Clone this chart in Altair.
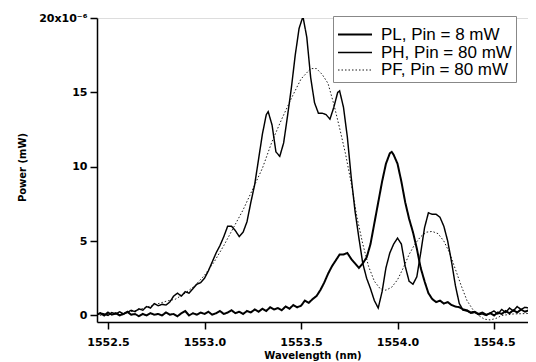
import altair as alt
import pandas as pd

labels = ["PL, Pin = 8 mW", "PH, Pin = 80 mW", "PF, Pin = 80 mW"]

pl_x = [1552.44, 1552.46, 1552.48, 1552.50, 1552.52, 1552.54, 1552.56, 1552.58, 1552.60, 1552.62,
        1552.64, 1552.66, 1552.68, 1552.70, 1552.72, 1552.74, 1552.76, 1552.78, 1552.80, 1552.82,
        1552.84, 1552.86, 1552.88, 1552.90, 1552.92, 1552.94, 1552.96, 1552.98, 1553.00, 1553.02,
        1553.04, 1553.06, 1553.08, 1553.10, 1553.12, 1553.14, 1553.16, 1553.18, 1553.20, 1553.22,
        1553.24, 1553.26, 1553.28, 1553.30, 1553.32, 1553.34, 1553.36, 1553.38, 1553.40, 1553.42,
        1553.44, 1553.46, 1553.48, 1553.50, 1553.52, 1553.54, 1553.56, 1553.58, 1553.60, 1553.62,
        1553.64, 1553.66, 1553.68, 1553.70, 1553.72, 1553.74, 1553.76, 1553.78, 1553.80, 1553.82,
        1553.84, 1553.86, 1553.88, 1553.90, 1553.92, 1553.94, 1553.96, 1553.97, 1553.98, 1554.00,
        1554.02, 1554.04, 1554.06, 1554.08, 1554.10, 1554.12, 1554.14, 1554.16, 1554.18, 1554.20,
        1554.22, 1554.24, 1554.26, 1554.28, 1554.30, 1554.32, 1554.34, 1554.36, 1554.38, 1554.40,
        1554.42, 1554.44, 1554.46, 1554.48, 1554.50, 1554.52, 1554.54, 1554.56, 1554.58, 1554.60,
        1554.62, 1554.64, 1554.66, 1554.68, 1554.70, 1554.72]
pl_y = [0.05, 0.15, 0.0, 0.2, 0.05, 0.15, 0.0, 0.1, 0.25, 0.05,
        0.1, -0.05, 0.1, 0.0, 0.15, 0.05, 0.1, 0.0, 0.2, 0.05,
        0.1, -0.05, 0.15, 0.3, 0.0, 0.15, 0.05, 0.2, 0.1, 0.25,
        0.05, 0.15, 0.3, 0.1, 0.2, 0.35, 0.15, 0.25, 0.1, 0.3,
        0.2, 0.4, 0.25, 0.45, 0.3, 0.55, 0.4, 0.5, 0.35, 0.6,
        0.45, 0.7, 0.55, 0.65, 1.0, 0.85, 1.1, 1.3, 1.7, 2.2,
        2.8, 3.3, 3.7, 4.1, 4.1, 4.2, 3.8, 3.5, 3.2, 3.5,
        3.9, 4.8, 6.2, 7.6, 9.0, 10.2, 10.9, 11.0, 10.8, 10.2,
        9.0, 7.6, 6.5, 5.6, 4.5, 3.2, 2.3, 1.5, 1.1, 0.9,
        1.0, 0.8, 0.9, 0.7, 0.6, 0.55, 0.4, 0.35, 0.2, 0.25,
        0.1, 0.2, 0.05, 0.15, 0.0, 0.2, 0.1, 0.3, 0.15, 0.35,
        0.2, 0.4, 0.25, 0.35, 0.2, 0.3]

ph_x = [1552.44, 1552.46, 1552.48, 1552.50, 1552.52, 1552.54, 1552.56, 1552.58, 1552.60, 1552.62,
        1552.64, 1552.66, 1552.68, 1552.70, 1552.72, 1552.74, 1552.76, 1552.78, 1552.80, 1552.82,
        1552.84, 1552.86, 1552.88, 1552.90, 1552.92, 1552.94, 1552.96, 1552.98, 1553.00, 1553.02,
        1553.04, 1553.06, 1553.08, 1553.10, 1553.12, 1553.14, 1553.16, 1553.18, 1553.20, 1553.22,
        1553.24, 1553.26, 1553.28, 1553.30, 1553.32, 1553.33, 1553.35, 1553.37, 1553.39, 1553.41,
        1553.43, 1553.45, 1553.47, 1553.49, 1553.51, 1553.53, 1553.55, 1553.57, 1553.59, 1553.61,
        1553.63, 1553.65, 1553.67, 1553.69, 1553.70, 1553.72, 1553.74, 1553.76, 1553.78, 1553.80,
        1553.82, 1553.84, 1553.86, 1553.88, 1553.90, 1553.92, 1553.94, 1553.96, 1553.98, 1554.00,
        1554.02, 1554.04, 1554.06, 1554.08, 1554.10, 1554.12, 1554.14, 1554.16, 1554.18, 1554.20,
        1554.22, 1554.24, 1554.26, 1554.28, 1554.30, 1554.32, 1554.34, 1554.36, 1554.38, 1554.40,
        1554.42, 1554.44, 1554.46, 1554.48, 1554.50, 1554.52, 1554.54, 1554.56, 1554.58, 1554.60,
        1554.62, 1554.64, 1554.66, 1554.68, 1554.70, 1554.72]
ph_y = [0.05, 0.15, 0.1, 0.0, 0.2, 0.1, 0.25, 0.1, 0.2, 0.35,
        0.25, 0.45, 0.35, 0.6, 0.5, 0.8, 0.65, 0.75, 0.7, 0.9,
        1.3, 1.5, 1.3, 1.6, 1.5, 1.8, 2.1, 2.2, 2.5, 3.0,
        3.6, 4.2, 4.7, 5.3, 6.0, 6.0, 5.7, 5.3, 5.6, 6.3,
        7.6, 8.8, 10.5, 12.2, 13.5, 13.7, 12.8, 11.0, 10.7, 11.6,
        13.4, 15.3, 17.5, 19.3, 20.1, 18.7, 16.0, 14.3, 13.6, 13.6,
        13.5, 13.2, 14.0, 15.0, 15.1, 14.0, 12.0, 9.3, 7.0, 5.2,
        3.5, 2.5, 1.8, 1.0, 0.5, 1.6, 3.2, 4.2, 4.8, 5.2,
        4.8, 3.3, 2.3, 2.1, 2.6, 4.2, 5.9, 6.9, 6.8, 6.8,
        6.6, 6.0, 5.0, 3.6, 2.0, 0.8, 0.35, 0.3, 0.15, 0.2,
        0.05, 0.1, 0.0, 0.15, 0.3, 0.1, 0.4, 0.2, 0.5, 0.3,
        0.6, 0.4, 0.55, 0.5, 0.4, 0.5]

pf_x = [1552.44, 1552.50, 1552.55, 1552.60, 1552.65, 1552.70, 1552.75, 1552.80, 1552.85, 1552.90,
        1552.95, 1553.00, 1553.05, 1553.10, 1553.15, 1553.20, 1553.25, 1553.30, 1553.35, 1553.40,
        1553.45, 1553.50, 1553.55, 1553.58, 1553.61, 1553.64, 1553.67, 1553.70, 1553.73, 1553.76,
        1553.79, 1553.82, 1553.85, 1553.88, 1553.91, 1553.94, 1553.97, 1554.00, 1554.03, 1554.06,
        1554.09, 1554.12, 1554.15, 1554.18, 1554.21, 1554.24, 1554.27, 1554.30, 1554.33, 1554.36,
        1554.39, 1554.42, 1554.45, 1554.48, 1554.51, 1554.54, 1554.60, 1554.72]
pf_y = [0.0, 0.05, 0.1, 0.2, 0.35, 0.55, 0.75, 0.95, 1.1, 1.5,
        2.0, 2.7, 3.6, 4.7, 5.9, 7.1, 8.5, 9.9, 11.7, 13.2,
        14.6, 15.9, 16.6, 16.6, 16.2, 15.6, 14.2, 12.6, 10.9, 8.9,
        6.6, 4.8, 3.3, 2.3, 1.8, 1.7, 1.9, 2.4, 3.2, 4.1,
        4.8, 5.3, 5.6, 5.65, 5.5, 5.0, 4.2, 3.1, 2.0, 1.0,
        0.4, 0.0, -0.25, -0.3, -0.2, 0.0, 0.1, 0.15]

frames = []
for lab, xs, ys in zip(labels, [pl_x, ph_x, pf_x], [pl_y, ph_y, pf_y]):
    frames.append(pd.DataFrame({"wl": xs, "p": ys, "series": lab}))
df = pd.concat(frames, ignore_index=True)

FONT = "DejaVu Sans"

legend = alt.Legend(
    title=" ", titleFontSize=4, titlePadding=1,
    orient="none", legendX=236, legendY=-2,
    strokeColor="#888888", fillColor="white", padding=4,
    labelFont="Liberation Sans", labelFontSize=17, labelColor="black",
    symbolType="M-1,0H3", symbolSize=289, symbolStrokeColor="black",
    rowPadding=0, labelOffset=25,
)

chart = alt.Chart(df).mark_line(clip=True, color="black").encode(
    x=alt.X("wl:Q",
            scale=alt.Scale(domain=[1552.443, 1554.676], nice=False, zero=False),
            axis=alt.Axis(values=[1552.5, 1553.0, 1553.5, 1554.0, 1554.5], format=".1f",
                          title="Wavelength (nm)", grid=False, domainColor="black",
                          domainWidth=1.5, tickColor="black", tickWidth=1.5, tickSize=7,
                          labelFont=FONT, labelFontSize=11, labelFontWeight="bold",
                          labelColor="black", labelPadding=7,
                          titleFont=FONT, titleFontSize=10, titleFontWeight="bold",
                          titleColor="black", titleY=36, titleBaseline="alphabetic")),
    y=alt.Y("p:Q",
            scale=alt.Scale(domain=[-0.44, 20], nice=False, zero=False),
            axis=alt.Axis(values=[0, 5, 10, 15, 20],
                          labelExpr="datum.value == 20 ? '20x10⁻⁶' : datum.label",
                          title="Power (mW)", grid=False, domainColor="black",
                          domainWidth=1.5, tickColor="black", tickWidth=1.5, tickSize=7,
                          labelFont=FONT, labelFontSize=11, labelFontWeight="bold",
                          labelColor="black", labelPadding=3,
                          titleFont=FONT, titleFontSize=10, titleFontWeight="bold",
                          titleColor="black", titleX=-70, titleY=149)),
    strokeWidth=alt.StrokeWidth("series:N",
                                scale=alt.Scale(domain=labels, range=[2.0, 0.9, 1.5]),
                                legend=legend),
    strokeDash=alt.StrokeDash("series:N",
                              scale=alt.Scale(domain=labels, range=[[1, 0], [1, 0], [1.5, 2]]),
                              legend=legend),
).properties(
    width=431, height=304,
    autosize=alt.AutoSizeParams(type="none"),
    padding={"left": 89, "top": 10, "right": 0, "bottom": 40},
).configure_view(stroke=None).configure(background="white")

chart.save("out.html", embed_options={"renderer": "svg", "actions": False})
